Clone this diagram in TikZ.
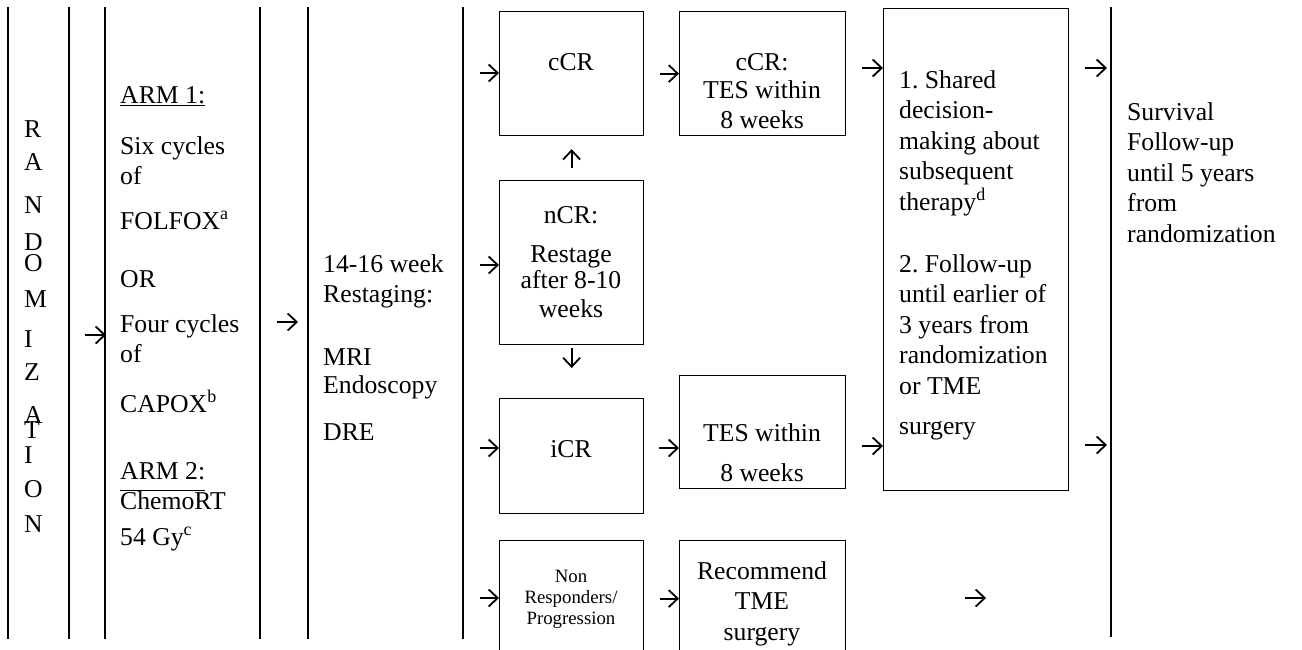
\documentclass[tikz,border=0pt]{standalone}
\usepackage{fontspec}
\setmainfont{Liberation Serif}
\usetikzlibrary{arrows.meta,positioning}
\frenchspacing
\newcommand{\bodyfont}{\fontsize{25.7}{30.5}\selectfont}
\newcommand{\nrfont}{\fontsize{18.8}{21}\selectfont}
\tikzset
{
    stagebox/.style = {draw=black, line width=1.2pt, inner sep=0pt, anchor=north west},
    plaintxt/.style = {font=\bodyfont, inner sep=0pt, anchor=base west},
    txtblock/.style = {font=\bodyfont, inner sep=0pt, anchor=base west, align=flush left, text width=#1},
    ctrblock/.style = {font=\bodyfont, inner sep=0pt, anchor=base, align=flush center, text width=#1},
    sepline/.style  = {line width=1.5pt},
    arr/.style      = {-{Straight Barb[length=9pt,width=17pt,line width=1.8pt]}, line width=1.8pt}
}

\begin{document}
\begin{tikzpicture}[x=1pt, y=-1pt]
\useasboundingbox (0,0) rectangle (1302,649);

%% column rules
\foreach \xx in {8,69,105,260,308,463}
	\draw[sepline] (\xx,7) -- (\xx,639);
\draw[sepline] (1111,7) -- (1111,637);

\foreach \ch/\yy [count=\i] in {R/137,A/170,N/213,D/250,O/271,M/307,I/347,Z/380,A/423,T/438,I/463,O/497,N/532}
	\node (rnd\i) [plaintxt] at (24,\yy) {\ch};

\node (arm1)	[plaintxt]			at (120,103)	{ARM 1:};
\node (cyc1)	[txtblock=130pt]	at (120,154)	{Six cycles\\of};
\node (folf)	[plaintxt]			at (120,229)	{FOLFOX\textsuperscript{a}};
\node (orl)		[plaintxt]			at (120,287)	{OR};
\node (cyc2)	[txtblock=140pt]	at (120,332)	{Four cycles\\of};
\node (capx)	[plaintxt]			at (120,412)	{CAPOX\textsuperscript{b}};
\node (arm2)	[plaintxt]			at (120,479)	{ARM 2:};
\node (chrt)	[txtblock=130pt]	at (120,509)	{ChemoRT\\[5.5pt]54 Gy\textsuperscript{c}};
\draw[line width=1pt] ([yshift=-2pt]arm1.base west) -- ([yshift=-2pt]arm1.base east);
\draw[line width=1pt] ([yshift=-11pt]arm2.base west) -- ([yshift=-11pt]arm2.base east);

\node (rstg)	[txtblock=140pt]	at (323,272)	{14-16 week\\Restaging:\\[32.5pt]MRI\\[-2.5pt]Endoscopy\\[16.5pt]DRE};

\node (ccr)		[stagebox, minimum width=144pt, minimum height=124pt]	at (499,11)		{};
\node (tesa)	[stagebox, minimum width=166pt, minimum height=124pt]	at (679,11)		{};
\node (ncr)		[stagebox, minimum width=144pt, minimum height=164pt]	at (499,180)	{};
\node (icr)		[stagebox, minimum width=144pt, minimum height=115pt]	at (499,398)	{};
\node (tesb)	[stagebox, minimum width=166pt, minimum height=113pt]	at (679,375)	{};
\node (nonr)	[stagebox, minimum width=144pt, minimum height=116pt]	at (499,540)	{};
\node (tme)		[stagebox, minimum width=166pt, minimum height=116pt]	at (679,540)	{};
\node (sdm)		[stagebox, minimum width=185pt, minimum height=482pt]	at (883,8)		{};

\node (ccrl)	[ctrblock=140pt]	at (571,70)		{cCR};
\node (tesal)	[ctrblock=160pt]	at (762,70)		{cCR:\\[-2.5pt]TES within\\[-0.5pt]8 weeks};
\node (ncrl)	[ctrblock=140pt]	at (571,223)	{nCR:\\[8.5pt]Restage\\[-4.5pt]after 8-10\\[-1.5pt]weeks};
\node (icrl)	[ctrblock=140pt]	at (571,457)	{iCR};
\node (tesbl)	[ctrblock=160pt]	at (762,441)	{TES within\\[10pt]8 weeks};
\node (nonrl)	[ctrblock=140pt, font=\nrfont]	at (571,582)	{Non\\Responders/\\Progression};
\node (tmel)	[ctrblock=160pt]	at (762,579)	{Recommend\\TME\\surgery};
\node (sdml)	[txtblock=175pt]	at (899,88)		{1. Shared\\decision-\\making about\\subsequent\\therapy\textsuperscript{d}};
\node (ful)		[txtblock=175pt]	at (899,272)	{2. Follow-up\\until earlier of\\3 years from\\randomization\\or TME\\[9.5pt]surgery};
\node (surv)	[txtblock=175pt]	at (1127,120)	{Survival\\Follow-up\\until 5 years\\from\\randomization};

\coordinate (ta)	at (85,335);
\coordinate (ha)	at (106,335);
\coordinate (tb)	at (277,322);
\coordinate (hb)	at (298,322);
\coordinate (tc)	at (480,73);
\coordinate (td)	at (480,265);
\coordinate (te)	at (480,448);
\coordinate (tf)	at (480,598);
\coordinate (tg)	at (659,448);
\coordinate (th)	at (862,68);
\coordinate (ti)	at (862,446);
\coordinate (tj)	at (1085,68);
\coordinate (hj)	at (1107,68);
\coordinate (tk)	at (1085,445);
\coordinate (hk)	at (1107,445);
\coordinate (tl)	at (965,598);
\coordinate (hl)	at (986,598);

\path
(ta)		edge[arr]								(ha)
(tb)		edge[arr]								(hb)
(tc)		edge[arr]								(tc -| ccr.west)
(td)		edge[arr]								(td -| ncr.west)
(te)		edge[arr]								(te -| icr.west)
(tf)		edge[arr]								(tf -| nonr.west)
(ccr)		edge[arr, shorten <=16pt]				(tesa)
(tg)		edge[arr]								(tg -| tesb.west)
(nonr)		edge[arr, shorten <=16pt]				(tme)
(ncr.north)	edge[arr, shorten <=12pt, shorten >=13pt]	(ccr.south)
(ncr.south)	edge[arr, shorten <=3pt, shorten >=30pt]	(icr.north)
(th)		edge[arr]								(th -| sdm.west)
(ti)		edge[arr]								(ti -| sdm.west)
(tj)		edge[arr]								(hj)
(tk)		edge[arr]								(hk)
(tl)		edge[arr]								(hl);
\end{tikzpicture}
\end{document}
